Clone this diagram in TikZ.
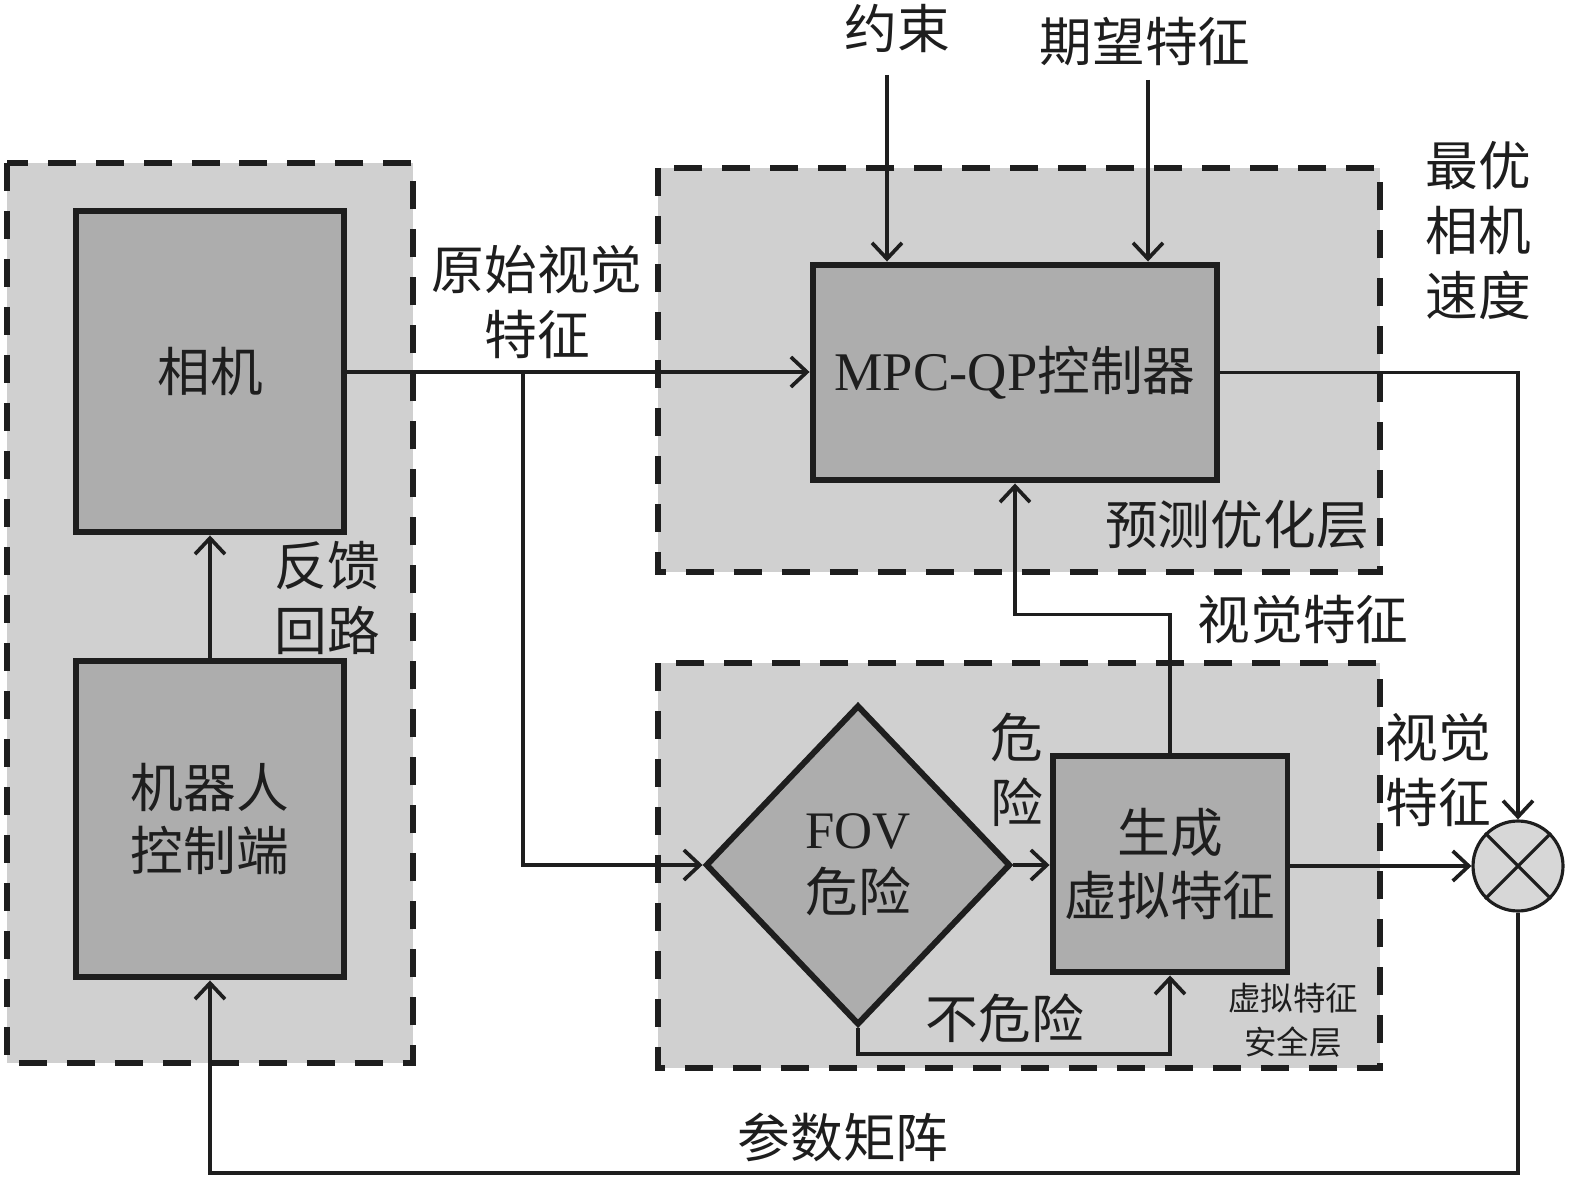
\documentclass[tikz,border=0pt]{standalone}
\usepackage{fontspec}
\setmainfont{Liberation Serif}
\newfontfamily\cjk{Noto Sans CJK SC}
\newfontfamily\lat{Liberation Serif}
\usetikzlibrary{arrows.meta,shapes.geometric}
\definecolor{regionfill}{HTML}{D0D0D0}
\definecolor{boxfill}{HTML}{ADADAD}
\definecolor{ink}{HTML}{1E1E1E}
\tikzset{
  region/.style={fill=regionfill, draw=ink, line width=3.9pt, dash pattern=on 0.56cm off 0.4cm},
  blockbox/.style={rectangle, fill=boxfill, draw=ink, line width=3.4pt, inner sep=0pt,
     font=\cjk\fontsize{30}{36}\selectfont, align=center, text=ink},
  decide/.style={diamond, fill=boxfill, draw=ink, line width=3.4pt, inner sep=0pt,
     font=\cjk\fontsize{30}{36}\selectfont, align=center, text=ink},
  mixer/.style={circle, fill=regionfill!85!white, draw=ink, line width=1.8pt, minimum size=1.8cm, inner sep=0pt},
  lbl/.style={font=\cjk\fontsize{30}{37}\selectfont, align=center, text=ink, inner sep=0pt},
  smalllbl/.style={font=\cjk\fontsize{18.5}{25}\selectfont, align=center, text=ink, inner sep=0pt},
  wire/.style={draw=ink, line width=2.1pt},
  conn/.style={wire, -{Straight Barb[length=0.32cm,width=0.6cm,line width=2.1pt]}},
}
\begin{document}
\begin{tikzpicture}[x=0.02cm, y=-0.02cm]
\useasboundingbox (0,0) rectangle (1575,1185);
% regions
\draw[region] (7,163) rectangle (413,1063);
\draw[region] (658,168) rectangle (1380,572);
\draw[region] (658,663) rectangle (1380,1068);
% blocks
\node[blockbox, minimum width=5.38cm, minimum height=6.44cm] (cam) at (210,371.5) {相机};
\node[blockbox, minimum width=5.38cm, minimum height=6.34cm] (robot) at (210,819) {机器人\\控制端};
\node[blockbox, minimum width=8.1cm, minimum height=4.32cm] (mpc) at (1015,372.5) {{\lat\fontsize{31}{36}\selectfont MPC-QP}控制器};
\node[blockbox, minimum width=4.7cm, minimum height=4.34cm] (gen) at (1170,864) {生成\\虚拟特征};
\node[decide, minimum width=6.1cm, minimum height=6.4cm] (fov) at (858,865) {{\lat FOV}\\危险};
\node[mixer] (mix) at (1518,866) {};
\draw[ink, line width=1.8pt] (mix.45) -- (mix.225) (mix.135) -- (mix.-45);
% input coordinates
\coordinate (c1) at (887,75);
\coordinate (c2) at (1148,80);
\coordinate (br) at (523,372);
% connectors
\draw[conn] (cam.east |- br) -- (mpc.west |- br);
\draw[conn] (br) |- (fov.west);
\draw[conn] (fov.east) -- (gen.west |- fov.east);
\draw[conn] (fov.south) -- ++(0,26) -| (gen.south);
\draw[conn] (gen.north) -- ++(0,-138) -| (mpc.south);
\draw[conn] (gen.east |- mix.west) -- (mix.west);
\draw[conn] (mpc.east) -| (mix.north);
\draw[conn] (mix.south) -- (mix.south |- 0,1173) -| (robot.south);
\draw[conn] (robot.north) -- (cam.south);
\draw[conn] (c1) -- (c1 |- mpc.north);
\draw[conn] (c2) -- (c2 |- mpc.north);
% labels
\node[lbl] (lc1) at (897,28) {约束};
\node[lbl] (lc2) at (1145,42) {期望特征};
\node[lbl] (lraw) at (537,302) {原始视觉\\特征};
\node[lbl] (lfb) at (327,598) {反馈\\回路};
\node[lbl] (lpred) at (1237,525) {预测优化层};
\node[lbl] (lvis) at (1303,620) {视觉特征};
\node[lbl] (ldanger) at (1017,770) {危\\险};
\node[lbl] (lsafe) at (1005,1018) {不危险};
\node[smalllbl] (llayer) at (1293,1020) {虚拟特征\\安全层};
\node[lbl] (lvis2) at (1438,770) {视觉\\特征};
\node[lbl] (lopt) at (1478,231) {最优\\相机\\速度};
\node[lbl] (lparam) at (843,1137) {参数矩阵};
\end{tikzpicture}
\end{document}
